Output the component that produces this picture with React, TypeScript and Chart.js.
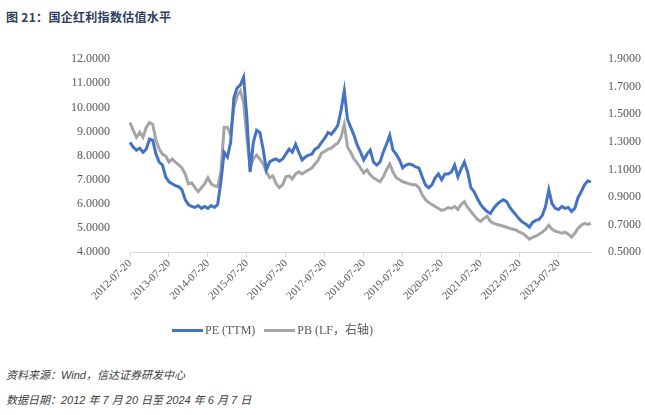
import React, { useEffect, useRef } from "react";
import { Chart, registerables } from "chart.js";

Chart.register(...registerables);

// Monthly observations from 2012-07 to 2024-06 (day 20 of each month; last = 2024-06-07)
const startYear = 2012;
const startMonth = 7;
const lastLabel = "2024-06-07";

const peTTM: number[] = [
  8.55, 8.35, 8.23, 8.31, 8.14, 8.27, 8.68, 8.64, 8.06, 7.73, 7.61, 7.12,
  6.91, 6.83, 6.75, 6.71, 6.58, 6.17, 5.97, 5.89, 5.85, 5.93, 5.81, 5.89,
  5.81, 5.93, 5.85, 5.97, 6.91, 8.14, 7.94, 8.55, 10.40, 10.81, 10.93, 11.26,
  9.58, 7.32, 8.55, 9.05, 8.96, 8.27, 7.41, 7.73, 7.82, 7.86, 7.77, 7.86,
  8.06, 8.27, 8.14, 8.47, 8.14, 7.82, 7.94, 8.02, 8.06, 8.27, 8.35, 8.55,
  8.72, 8.96, 8.88, 9.05, 9.25, 9.87, 10.69, 9.50, 9.17, 8.84, 8.43, 8.14,
  7.82, 8.06, 8.23, 7.73, 7.61, 7.73, 8.14, 8.47, 8.84, 8.23, 8.06, 7.82,
  7.49, 7.61, 7.65, 7.61, 7.53, 7.49, 7.12, 6.79, 6.67, 6.79, 7.08, 7.24,
  7.00, 7.24, 7.24, 7.32, 7.61, 7.12, 7.45, 7.73, 7.32, 6.67, 6.50, 6.22,
  5.97, 5.81, 5.68, 5.60, 5.81, 5.97, 6.09, 6.17, 6.09, 5.85, 5.68, 5.52,
  5.35, 5.23, 5.15, 5.03, 5.23, 5.31, 5.35, 5.52, 5.89, 6.58, 6.01, 5.81,
  5.76, 5.89, 5.81, 5.85, 5.68, 5.81, 6.26, 6.50, 6.79, 6.95, 6.91,
];

const pbLF: number[] = [
  1.440, 1.383, 1.333, 1.369, 1.333, 1.405, 1.440, 1.426, 1.311, 1.247, 1.211, 1.196,
  1.153, 1.175, 1.153, 1.132, 1.110, 1.067, 0.995, 1.003, 0.967, 0.938, 0.967, 0.995,
  1.039, 0.995, 0.981, 0.974, 1.082, 1.405, 1.405, 1.354, 1.548, 1.634, 1.670, 1.584,
  1.333, 1.117, 1.175, 1.204, 1.175, 1.139, 1.082, 1.039, 1.053, 0.995, 0.967, 0.988,
  1.046, 1.053, 1.031, 1.067, 1.082, 1.067, 1.082, 1.096, 1.110, 1.139, 1.168, 1.218,
  1.232, 1.247, 1.254, 1.275, 1.290, 1.333, 1.426, 1.261, 1.225, 1.175, 1.146, 1.110,
  1.074, 1.096, 1.060, 1.039, 1.024, 1.010, 1.046, 1.096, 1.139, 1.082, 1.039, 1.024,
  1.010, 1.003, 0.995, 0.988, 0.988, 0.967, 0.916, 0.881, 0.859, 0.845, 0.830, 0.816,
  0.802, 0.809, 0.823, 0.816, 0.830, 0.809, 0.845, 0.866, 0.823, 0.794, 0.766, 0.737,
  0.723, 0.744, 0.759, 0.723, 0.708, 0.701, 0.694, 0.687, 0.680, 0.672, 0.665, 0.658,
  0.644, 0.636, 0.615, 0.593, 0.608, 0.615, 0.629, 0.644, 0.665, 0.694, 0.665, 0.651,
  0.644, 0.636, 0.644, 0.629, 0.608, 0.636, 0.672, 0.694, 0.708, 0.701, 0.708,
];

const seriesNames = ["PE (TTM)", "PB (LF，右轴)"];
const seriesColors = ["#4472C4", "#A5A5A5"];
const leftTicks = { min: 4, max: 12, step: 1 };
const rightTicks = { min: 0.5, max: 1.9, step: 0.2 };

const labels: string[] = peTTM.map((_, i) => {
  if (i === peTTM.length - 1) return lastLabel;
  const m0 = startMonth - 1 + i;
  const y = startYear + Math.floor(m0 / 12);
  const m = (m0 % 12) + 1;
  return `${y}-${String(m).padStart(2, "0")}-20`;
});

const SERIF = '"Liberation Serif", "Noto Sans CJK SC", serif';
const TICK_COLOR = "#595959";

export default function App() {
  const ref = useRef<HTMLCanvasElement | null>(null);

  useEffect(() => {
    document.body.style.margin = "0";
    if (!ref.current) return;
    const chart = new Chart(ref.current, {
      type: "line",
      data: {
        labels,
        datasets: [
          {
            label: seriesNames[0],
            data: peTTM,
            borderColor: seriesColors[0],
            backgroundColor: seriesColors[0],
            borderWidth: 3,
            pointRadius: 0,
            tension: 0,
            yAxisID: "y",
          },
          {
            label: seriesNames[1],
            data: pbLF,
            borderColor: seriesColors[1],
            backgroundColor: seriesColors[1],
            borderWidth: 3,
            pointRadius: 0,
            tension: 0,
            yAxisID: "y1",
          },
        ],
      },
      options: {
        animation: false,
        responsive: false,
        maintainAspectRatio: false,
        layout: { padding: { left: 0, right: 0, top: 16, bottom: 36 } },
        plugins: {
          tooltip: { enabled: false },
          legend: { display: false },
        },
        scales: {
          x: {
            type: "category",
            offset: false,
            grid: {
              display: true,
              drawOnChartArea: false,
              drawTicks: true,
              tickLength: 5,
              color: "#D9D9D9",
            },
            border: { display: true, color: "#D9D9D9", width: 1 },
            ticks: {
              autoSkip: false,
              minRotation: 45,
              maxRotation: 45,
              padding: 0,
              color: TICK_COLOR,
              font: { family: SERIF, size: 11 },
              callback: (_v: any, i: number) =>
                labels[i].slice(5) === "07-20" ? labels[i] : null,
            },
            afterFit: (s: any) => {
              s.height = 62;
            },
          },
          y: {
            type: "linear",
            position: "left",
            min: leftTicks.min,
            max: leftTicks.max,
            grid: { display: false },
            border: { display: false },
            ticks: {
              stepSize: leftTicks.step,
              padding: 12,
              color: TICK_COLOR,
              font: { family: SERIF, size: 12 },
              callback: (v: any) => Number(v).toFixed(4),
            },
            afterFit: (s: any) => {
              s.width = 130;
            },
          },
          y1: {
            type: "linear",
            position: "right",
            min: rightTicks.min,
            max: rightTicks.max,
            grid: { display: false },
            border: { display: false },
            ticks: {
              stepSize: rightTicks.step,
              padding: 9,
              color: TICK_COLOR,
              font: { family: SERIF, size: 12 },
              callback: (v: any) => Number(v).toFixed(4),
            },
            afterFit: (s: any) => {
              s.width = 54;
            },
          },
        },
      },
    });
    return () => chart.destroy();
  }, []);

  const footStyle: React.CSSProperties = {
    position: "absolute",
    left: 6,
    fontFamily: "Arial, 'Liberation Sans', 'Noto Sans CJK SC', sans-serif",
    fontStyle: "italic",
    fontSize: 11,
    color: "#404040",
    whiteSpace: "nowrap",
    lineHeight: "16px",
  };

  return (
    <div style={{ position: "relative", width: 645, height: 415, background: "#fff", overflow: "hidden" }}>
      <div
        style={{
          position: "absolute",
          left: 6,
          top: 9,
          fontFamily: "'Noto Sans CJK SC', sans-serif",
          fontWeight: 700,
          fontSize: 12,
          letterSpacing: 0.3,
          color: "#2E3D5E",
          whiteSpace: "nowrap",
          lineHeight: "16px",
        }}
      >
        图 21：国企红利指数估值水平
      </div>
      <canvas ref={ref} width={645} height={310} style={{ position: "absolute", left: 0, top: 40, width: 645, height: 310 }} />
      <div
        style={{
          position: "absolute",
          left: 172,
          top: 322,
          display: "flex",
          alignItems: "center",
          fontFamily: SERIF,
          fontSize: 12,
          color: TICK_COLOR,
          whiteSpace: "nowrap",
          lineHeight: "16px",
        }}
      >
        {seriesNames.map((n, i) => (
          <span key={n} style={{ display: "flex", alignItems: "center", marginRight: 9 }}>
            <span style={{ display: "inline-block", width: 31, height: 3, background: seriesColors[i], marginRight: 2 }} />
            <span>{n}</span>
          </span>
        ))}
      </div>
      <div style={{ ...footStyle, top: 367 }}>资料来源：Wind，信达证券研发中心</div>
      <div style={{ ...footStyle, top: 392 }}>数据日期：2012 年 7 月 20 日至 2024 年 6 月 7 日</div>
    </div>
  );
}
